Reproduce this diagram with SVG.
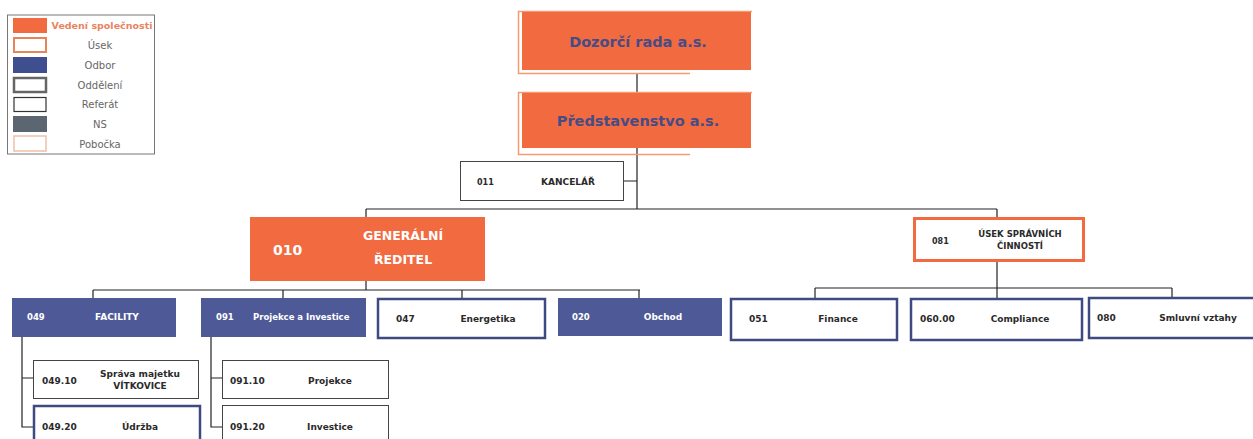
<svg xmlns="http://www.w3.org/2000/svg" width="1253" height="439" viewBox="0 0 1253 439">
<style>
.t{font-family:"DejaVu Sans",Verdana,sans-serif;font-weight:bold;font-size:9px;fill:#2a2a2a}
.w{fill:#ffffff}
.lg{font-family:"DejaVu Sans",Verdana,sans-serif;font-size:10px;fill:#666;text-anchor:middle}
.c{text-anchor:middle}
.ln{stroke:#222;stroke-width:1.2;fill:none}
.org{fill:#F26A3F}
.blue{fill:#4E5A98}
.ref{fill:#fff;stroke:#444;stroke-width:1}
.odb{fill:#fff;stroke:#3F4A80;stroke-width:2.5}
.frm{fill:none;stroke:#F59A70;stroke-width:1.5}
.big{font-family:"DejaVu Sans",Verdana,sans-serif;font-weight:bold;font-size:14.5px;fill:#474C85;text-anchor:middle}
</style>
<rect width="1253" height="439" fill="#fff"/>

<g id="legend">
<rect x="7.5" y="15" width="147" height="139" fill="#fff" stroke="#777" stroke-width="1"/>
<rect x="13" y="18" width="34" height="15" fill="#F26A3F"/>
<rect x="14" y="38" width="32" height="14" fill="#fff" stroke="#E8845A" stroke-width="2"/>
<rect x="13" y="57" width="34" height="16" fill="#3E4E8E"/>
<rect x="14" y="78" width="32" height="14" fill="#fff" stroke="#666" stroke-width="2.5"/>
<rect x="14" y="97.5" width="32" height="14" fill="#fff" stroke="#333" stroke-width="1.2"/>
<rect x="13" y="116" width="34" height="16" fill="#5C6670"/>
<rect x="14" y="136" width="32" height="15" fill="#fff" stroke="#EFC0A8" stroke-width="1.5"/>
<text class="lg" x="102" y="29" style="fill:#E9845F;font-weight:bold;font-size:9.5px">Vedení společnosti</text>
<text class="lg" x="100" y="49">Úsek</text>
<text class="lg" x="100" y="69">Odbor</text>
<text class="lg" x="100" y="89">Oddělení</text>
<text class="lg" x="100" y="108">Referát</text>
<text class="lg" x="100" y="128">NS</text>
<text class="lg" x="100" y="148">Pobočka</text>
</g>

<g id="connectors">
<path class="ln" d="M637 73V93M637 148V209M624 181H637M366 209H997M366 209V217M997 209V217"/>
<path class="ln" d="M366 281V290M93 290H640M93 290V298M283 290V298M462 290V298M639 290V298"/>
<path class="ln" d="M997 262V288M815 288H1172M815 288V298M997 288V298M1172 288V297"/>
<path class="ln" d="M22 337V427H33M22 378H33M211 337V427H222M211 378H222"/>
</g>

<g id="dozorci">
<path class="frm" d="M752 11.5H518.5V73.5H690"/>
<rect x="522" y="12" width="229" height="58" class="org"/>
<text class="big" x="638" y="47">Dozorčí rada a.s.</text>
</g>

<g id="predstavenstvo">
<path class="frm" d="M752 92.5H518.5V154.5H690"/>
<rect x="522" y="93" width="229" height="55" class="org"/>
<text class="big" x="638" y="126">Představenstvo a.s.</text>
</g>

<g id="kancelar">
<rect x="460.5" y="161.5" width="163" height="39" class="ref"/>
<text class="t" x="477" y="185" style="font-size:8px">011</text>
<text class="t c" x="568" y="185">KANCELÁŘ</text>
</g>

<g id="generalni">
<rect x="250" y="217" width="235" height="64" class="org"/>
<text class="t w" x="273" y="255" style="font-size:14px">010</text>
<text class="t w c" x="403" y="240" style="font-size:12.5px">GENERÁLNÍ</text>
<text class="t w c" x="403" y="264" style="font-size:12.5px">ŘEDITEL</text>
</g>

<g id="usek">
<rect x="914.5" y="218.5" width="169" height="42" fill="#fff" stroke="#F26A3F" stroke-width="3"/>
<text class="t" x="932" y="244" style="font-size:8px">081</text>
<text class="t c" x="1020" y="237" style="font-size:8.5px">ÚSEK SPRÁVNÍCH</text>
<text class="t c" x="1020" y="249" style="font-size:8.5px">ČINNOSTÍ</text>
</g>

<g id="facility">
<rect x="12" y="298" width="164" height="39" class="blue"/>
<text class="t w" x="27" y="320" style="font-size:8.5px">049</text>
<text class="t w c" x="117" y="320">FACILITY</text>
</g>

<g id="projekce-investice">
<rect x="201" y="298" width="165" height="39" class="blue"/>
<text class="t w" x="216" y="320" style="font-size:8.5px">091</text>
<text class="t w" x="253" y="320" style="font-size:8.5px">Projekce a Investice</text>
</g>

<g id="energetika">
<rect x="378" y="299" width="167" height="39" class="odb"/>
<text class="t" x="396" y="322">047</text>
<text class="t c" x="488" y="322">Energetika</text>
</g>

<g id="obchod">
<rect x="558" y="298" width="164" height="38" class="blue"/>
<text class="t w" x="572" y="320" style="font-size:8.5px">020</text>
<text class="t w c" x="663" y="320">Obchod</text>
</g>

<g id="finance">
<rect x="731" y="299" width="166" height="41" class="odb"/>
<text class="t" x="749" y="322">051</text>
<text class="t c" x="838" y="322">Finance</text>
</g>

<g id="compliance">
<rect x="911" y="299" width="171" height="41" class="odb"/>
<text class="t" x="920" y="322">060.00</text>
<text class="t c" x="1020" y="322">Compliance</text>
</g>

<g id="smluvni">
<rect x="1089" y="298" width="166" height="40" class="odb"/>
<text class="t" x="1097" y="321">080</text>
<text class="t c" x="1198" y="321">Smluvní vztahy</text>
</g>

<g id="sprava-majetku">
<rect x="33.5" y="360.5" width="165" height="38" class="ref"/>
<text class="t" x="42" y="384">049.10</text>
<text class="t c" x="140" y="377">Správa majetku</text>
<text class="t c" x="140" y="389">VÍTKOVICE</text>
</g>

<g id="udrzba">
<rect x="34" y="406" width="166" height="40" class="odb"/>
<text class="t" x="42" y="430">049.20</text>
<text class="t c" x="140" y="430">Údržba</text>
</g>

<g id="projekce">
<rect x="222.5" y="360.5" width="166" height="38" class="ref"/>
<text class="t" x="230" y="384">091.10</text>
<text class="t c" x="330" y="384">Projekce</text>
</g>

<g id="investice">
<rect x="222.5" y="405.5" width="166" height="40" class="ref"/>
<text class="t" x="230" y="430">091.20</text>
<text class="t c" x="330" y="430">Investice</text>
</g>
</svg>
